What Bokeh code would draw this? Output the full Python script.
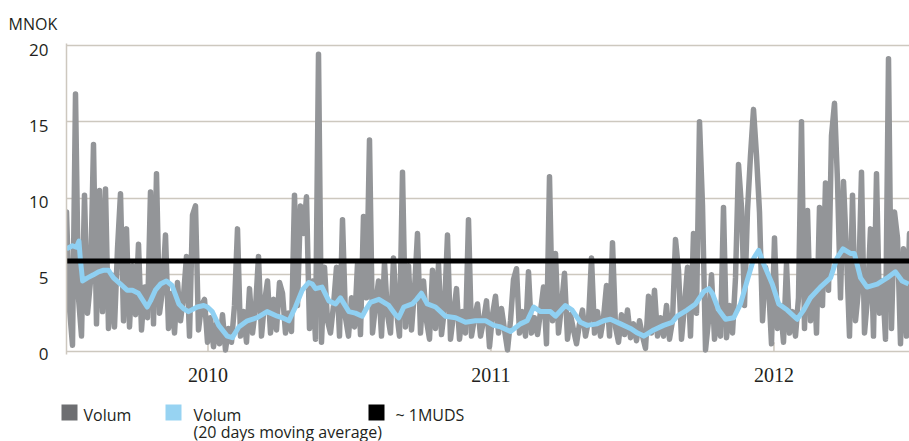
import numpy as np
from bokeh.plotting import figure
from bokeh.models import Range1d, FixedTicker, Title, LinearAxis
from bokeh.embed import file_html
from bokeh.resources import INLINE
from bokeh.core.properties import value

# ---------------- data ----------------
# daily traded volume (MNOK), sampled evenly from Jul 2009 to end Jun 2012
volume = [
    9.1, 2.8, 0.4, 16.8, 3.5, 1.0, 10.2, 2.5, 4.6, 13.5,
    1.8, 10.5, 2.6, 10.6, 1.5, 5.0, 1.6, 6.7, 10.3, 2.0,
    8.0, 1.6, 5.6, 2.4, 7.0, 1.4, 4.2, 2.2, 10.4, 1.8,
    11.6, 2.5, 4.0, 7.6, 1.5, 3.8, 1.2, 4.5, 2.0, 3.6,
    6.2, 1.0, 8.9, 9.5, 1.4, 3.0, 3.4, 0.6, 2.2, 0.3,
    1.8, 0.5, 2.4, 0.1, 1.5, 0.6, 3.0, 8.0, 1.0, 2.6,
    0.6, 4.1, 1.2, 2.8, 6.2, 1.0, 3.2, 4.6, 1.2, 3.4,
    1.4, 4.5, 3.8, 1.2, 2.5, 1.3, 10.2, 3.0, 9.5, 7.7,
    10.1, 1.5, 4.6, 0.8, 19.4, 0.6, 5.5, 2.0, 1.2, 3.0,
    5.5, 1.0, 8.6, 2.2, 1.0, 3.5, 1.6, 5.7, 1.1, 8.8,
    3.5, 13.8, 1.2, 3.0, 4.6, 1.0, 5.8, 2.4, 1.2, 6.1,
    2.6, 1.0, 11.7, 1.6, 5.6, 1.4, 4.0, 7.7, 1.2, 4.6,
    2.0, 0.8, 5.3, 1.5, 5.7, 1.1, 2.8, 7.6, 0.8, 2.4,
    4.1, 0.8, 2.6, 1.2, 8.6, 1.0, 2.2, 3.1, 1.0, 2.0,
    3.3, 0.3, 2.4, 3.6, 1.2, 2.8, 1.4, 0.1, 2.0, 4.7,
    5.4, 1.2, 2.6, 1.0, 5.2, 1.2, 2.2, 1.1, 2.6, 4.2,
    0.5, 11.4, 2.0, 6.4, 1.2, 3.0, 5.1, 0.8, 2.4, 1.4,
    0.5, 1.8, 2.7, 1.0, 2.0, 6.1, 1.2, 2.6, 1.0, 2.2,
    4.3, 1.0, 7.1, 1.6, 0.6, 2.4, 1.1, 2.7, 0.9, 1.8,
    0.7, 2.0, 1.0, 0.2, 3.6, 1.2, 4.0, 1.0, 2.2, 1.0,
    3.0, 0.8, 2.0, 7.3, 5.3, 0.8, 3.0, 5.5, 1.0, 7.7,
    2.5, 15.0, 9.5, 0.1, 2.0, 5.0, 0.8, 2.5, 1.0, 9.4,
    0.9, 3.0, 1.2, 4.8, 12.2, 9.4, 3.0, 9.2, 12.8, 15.8,
    12.8, 9.1, 2.0, 5.5, 4.4, 0.5, 7.4, 1.5, 3.0, 0.6,
    5.7, 1.2, 2.6, 1.0, 3.5, 15.0, 1.5, 9.2, 2.0, 5.9,
    1.2, 9.4, 3.0, 11.0, 4.0, 14.1, 16.2, 11.1, 3.5, 11.1,
    6.4, 1.0, 10.2, 2.0, 4.0, 11.7, 1.2, 3.5, 8.0, 1.0,
    11.6, 2.5, 4.6, 0.8, 19.1, 1.5, 9.1, 7.4, 0.5, 6.7,
    1.0, 7.7,
]
first_day, last_day = 2009.5, 2012.479          # fractional years
vol_dates = np.linspace(first_day, last_day, len(volume))

# 20 days moving average (date as fractional year, value MNOK)
ma_dates = [
    2009.500, 2009.521, 2009.535, 2009.544, 2009.549, 2009.557, 2009.574, 2009.595,
    2009.613, 2009.631, 2009.648, 2009.666, 2009.691, 2009.714, 2009.733, 2009.754,
    2009.785, 2009.797, 2009.814, 2009.832, 2009.853, 2009.873, 2009.897, 2009.913,
    2009.931, 2009.962, 2009.985, 2009.998, 2010.015, 2010.038, 2010.068, 2010.086,
    2010.109, 2010.139, 2010.174, 2010.209, 2010.245, 2010.263, 2010.286, 2010.309,
    2010.333, 2010.356, 2010.369, 2010.380, 2010.403, 2010.427, 2010.451, 2010.468,
    2010.498, 2010.521, 2010.545, 2010.560, 2010.574, 2010.604, 2010.639, 2010.663,
    2010.674, 2010.692, 2010.722, 2010.737, 2010.754, 2010.775, 2010.804, 2010.839,
    2010.875, 2010.910, 2010.945, 2010.981, 2011.010, 2011.034, 2011.069, 2011.104,
    2011.128, 2011.151, 2011.175, 2011.210, 2011.228, 2011.263, 2011.287, 2011.316,
    2011.340, 2011.375, 2011.398, 2011.422, 2011.458, 2011.493, 2011.518, 2011.540,
    2011.575, 2011.610, 2011.640, 2011.658, 2011.693, 2011.723, 2011.752, 2011.770,
    2011.782, 2011.805, 2011.829, 2011.858, 2011.882, 2011.905, 2011.929, 2011.946,
    2011.964, 2011.994, 2012.017, 2012.047, 2012.082, 2012.105, 2012.129, 2012.164,
    2012.200, 2012.223, 2012.244, 2012.270, 2012.284, 2012.306, 2012.329, 2012.365,
    2012.400, 2012.429, 2012.453, 2012.476,
]
ma_values = [
    6.7, 6.9, 6.8, 7.2, 6.0, 4.6, 4.8, 5.0,
    5.2, 5.3, 5.3, 4.8, 4.4, 4.0, 4.0, 3.8,
    2.9, 3.3, 4.0, 4.4, 4.6, 4.3, 3.1, 2.8,
    2.6, 2.9, 3.0, 2.9, 2.6, 1.7, 1.0, 0.9,
    1.6, 2.0, 2.2, 2.6, 2.3, 2.2, 2.0, 2.9,
    4.0, 4.5, 4.4, 4.1, 4.2, 3.3, 3.1, 3.5,
    2.6, 2.5, 2.3, 2.8, 3.2, 3.4, 3.0, 2.4,
    2.2, 2.9, 3.1, 3.4, 3.8, 3.1, 2.9, 2.3,
    2.2, 1.9, 2.0, 2.0, 1.7, 1.6, 1.3, 1.8,
    2.0, 2.9, 2.6, 2.6, 2.3, 3.0, 2.7, 1.9,
    1.7, 1.8, 2.0, 2.1, 1.8, 1.5, 1.2, 1.0,
    1.4, 1.7, 1.9, 2.3, 2.7, 3.1, 3.9, 4.1,
    3.8, 2.7, 2.1, 2.2, 3.1, 4.6, 6.1, 6.6,
    5.7, 4.4, 3.1, 2.7, 2.1, 2.7, 3.5, 4.2,
    4.8, 6.1, 6.7, 6.4, 6.4, 4.8, 4.2, 4.4,
    4.8, 5.2, 4.6, 4.4,
]

muds_level = 5.9                      # ~ 1MUDS
y_ticks = [0, 5, 10, 15, 20]
year_ticks = [2010, 2011, 2012]
legend_labels = ["Volum", "Volum", "(20 days moving average)", "~ 1MUDS"]

# ---------------- styles ----------------
GRID = "#cdc8bf"
GRAY = "#939598"
BLUE = "#8fd0f2"
TXT = "#231f20"
Y_LO, Y_HI = -0.2, 20.1

p = figure(width=909, height=395, output_backend="svg", toolbar_location=None,
           x_range=Range1d(first_day, last_day), y_range=Range1d(Y_LO, Y_HI),
           y_axis_location=None,
           min_border_left=66, min_border_right=0, min_border_top=43,
           min_border_bottom=41)
p.outline_line_color = None
p.background_fill_color = "white"
p.border_fill_color = "white"

p.title = Title(text="MNOK", align="left", offset=-58, text_font="Open Sans",
                text_font_size="16px", text_font_style="normal", text_color=TXT)
p.title.standoff = 17

# grid
p.xgrid.visible = False
p.ygrid.ticker = FixedTicker(ticks=y_ticks)
p.ygrid.grid_line_color = GRID
p.ygrid.grid_line_width = 1.5

# left axis on a slightly stretched range, so labels sit a bit below each grid line
p.extra_y_ranges = {"lab": Range1d(-0.02, Y_HI + 0.36)}
yax = LinearAxis(y_range_name="lab", ticker=FixedTicker(ticks=y_ticks),
                 axis_line_color=GRID, axis_line_width=1.5,
                 major_tick_line_color=None, minor_tick_line_color=None,
                 major_label_standoff=12, major_label_text_font="Open Sans",
                 major_label_text_font_size="17px", major_label_text_color=TXT)
p.add_layout(yax, "left")

# bottom axis
p.xaxis.ticker = FixedTicker(ticks=year_ticks)
p.xaxis.axis_line_color = None
p.xaxis.major_tick_line_color = None
p.xaxis.minor_tick_line_color = None
p.xaxis.major_label_standoff = 7
p.xaxis.major_label_text_font = "Liberation Serif"
p.xaxis.major_label_text_font_size = "20px"
p.xaxis.major_label_text_color = TXT

# small inner year ticks (hidden behind the data like in the original)
p.segment(x0=year_ticks, y0=[0] * 3, x1=year_ticks, y1=[0.6] * 3,
          line_color=GRID, line_width=1.5)

# data
p.line(vol_dates, volume, line_color=GRAY, line_width=5.5,
       line_join="round", line_cap="round")
p.line(ma_dates, ma_values, line_color=BLUE, line_width=5, line_join="round")
p.line([first_day, last_day], [muds_level, muds_level], line_color="black",
       line_width=5)

# ---------------- legend (own small figure, pixel coordinates) ----------------
leg = figure(width=909, height=46, output_backend="svg", toolbar_location=None,
             x_range=Range1d(0, 909), y_range=Range1d(46, 0),
             x_axis_location=None, y_axis_location=None, min_border=0,
             min_border_left=0, min_border_right=0, min_border_top=0,
             min_border_bottom=0)
leg.grid.visible = False
leg.outline_line_color = None
leg.background_fill_color = "white"
leg.border_fill_color = "white"
leg.quad(left=[61, 165, 368], right=[77, 181, 384], top=[9, 9, 9],
         bottom=[25, 25, 25], fill_color=["#6d6e71", "#97d3f2", "#000000"],
         line_color=None)
leg.text(x=[83, 193, 193, 395], y=[19.5, 19.5, 36, 19.5], text=legend_labels,
         text_font=value("Open Sans"), text_font_size="16px",
         text_baseline="alphabetic", text_align="left", text_color=TXT)

open("out.html", "w").write(file_html([p, leg], INLINE))
